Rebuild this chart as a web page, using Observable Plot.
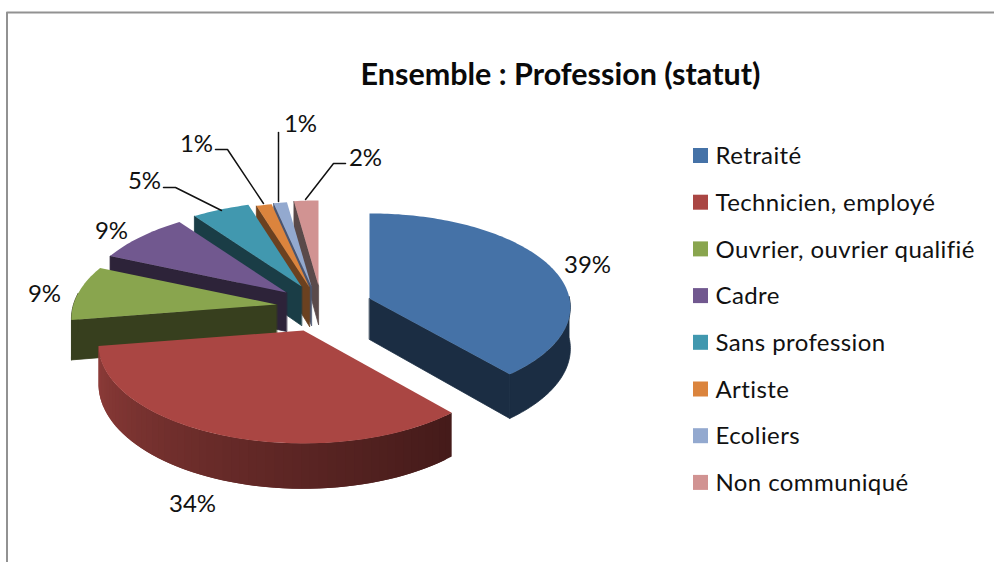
<!DOCTYPE html>
<html><head><meta charset="utf-8">
<style>html,body{margin:0;padding:0;background:#fff}svg{display:block}.leg{letter-spacing:.4px}</style>
<script src="https://cdn.jsdelivr.net/npm/d3@7"></script>
<script src="https://cdn.jsdelivr.net/npm/@observablehq/plot@0.6"></script>
</head><body><div id="c"></div>
<script>
// Data
const categories = ["Retraité","Technicien, employé","Ouvrier, ouvrier qualifié","Cadre","Sans profession","Artiste","Ecoliers","Non communiqué"];
const shares = [38.7,33.8,9,8.5,5.2,1.4,1.2,2.2];
const labels = ["39%","34%","9%","9%","5%","1%","1%","2%"];
const title = "Ensemble : Profession (statut)";
// Styles
const topColors  = ["#4572A7","#AA4643","#89A54E","#71588F","#4198AF","#DB843D","#93A9CF","#D19392"];
const sideColors = ["#1B2D43","#451B1A","#373F1E","#2D2339","#1A3D46","#6B4120","#4A5570","#5A4A4A"];
// Layout of the exploded, perspective pie
const apex = [[369,298],[303,330],[276,304],[286,292],[301,286],[309,287],[311,286],[318,285]];
const shape = i => i===0 ? {R:200,Ry:93,K:0.0926,D:41} : {R:203,Ry:97,K:0.141,D:39};
const project = (i, ax, ay, t) => { const {R,Ry,K}=shape(i), u=Math.sin(t), v=-Math.cos(t), s=1/(1-K*v); return {x:ax+R*u*s, y:ay+Ry*v*s, s}; };
const legendX = 693, legendY0 = 156, legendDY = 46.7;

const cum = d3.cumsum(shares);
const total = cum[cum.length-1];
const angle = p => p/total*2*Math.PI;
const slices = shares.map((d,i)=>({i, t0: angle(i?cum[i-1]:0), t1: angle(cum[i]), a: apex[i]}));
const arc = (s,a,b,n) => d3.range(n+1).map(k=>project(s.i,s.a[0],s.a[1],a+(b-a)*k/n));

let id=0;
const poly=(list,pts,color)=>{const z=id++;pts.forEach(p=>list.push({x:p[0],y:p[1],z,color}));};
const order=[7,6,5,4,3,2,0,1]; // painter's order
const layers=[];
for(const i of order){
  const s=slices[i], top=[], side=[], D=shape(i).D;
  const [ax,ay]=s.a;
  const cutT = i===0 ? s.t1 : s.t0;
  if(i!==1){
    const c=project(i,ax,ay,cutT);
    poly(side,[[ax,ay],[c.x,c.y],[c.x,c.y+D*c.s],[ax,ay+D]],sideColors[i]);
  }
  const a0=Math.max(s.t0,Math.PI/2-0.02), a1=Math.min(s.t1,Math.PI*1.5+0.12);
  if(a1>a0){
    if(i===1){
      const n=56, pts=arc(s,a0,a1,n);
      for(let k=0;k<n;k++){
        const p=pts[k],q=pts[Math.min(k+2,n)];
        const col=d3.interpolateRgb("#451B1A","#8E3C39")(Math.pow(k/(n-1),1.1));
        poly(side,[[p.x,p.y],[q.x,q.y],[q.x,q.y+D*q.s],[p.x,p.y+D*p.s]],col);
      }
    } else {
      const pts=arc(s,a0,a1,Math.max(2,Math.round((a1-a0)/0.02)));
      poly(side,[...pts.map(p=>[p.x,p.y]),...pts.slice().reverse().map(p=>[p.x,p.y+D*p.s])],sideColors[i]);
    }
  }
  const rim=arc(s,s.t0,s.t1,Math.max(4,Math.round((s.t1-s.t0)/0.02)));
  poly(top,[[ax,ay],...rim.map(p=>[p.x,p.y])],topColors[i]);
  layers.push({side,top,i});
}

const leaders=[
  {id:"5",pts:[[163,187],[175,187],[221,210]]},
  {id:"1a",pts:[[215,149],[227,149],[263,203]]},
  {id:"1b",pts:[[278,132],[278,201]]},
  {id:"2",pts:[[345,163],[333,163],[305,199]]}
].flatMap(l=>l.pts.map(p=>({id:l.id,x:p[0],y:p[1]})));
const labelPos=[[587,265],[192,504],[44,294],[111,231],[144,181],[196,144],[300,124],[365,158]];
const labelData=labels.map((t,i)=>({t,x:labelPos[i][0],y:labelPos[i][1]}));
const legendData=categories.map((c,i)=>({c,color:topColors[i],y:legendY0+i*legendDY}));
const font="Lato, 'Open Sans', sans-serif";

const plot=Plot.plot({
  width:994,height:562,margin:0,
  x:{domain:[0,994],range:[0,994],axis:null},
  y:{domain:[0,562],range:[0,562],axis:null},
  color:{type:"identity"},
  style:{fontFamily:font,background:"#fff"},
  marks:[
    Plot.line([{x:6.5,y:562},{x:6.5,y:12},{x:994,y:12}],{x:"x",y:"y",stroke:"#929292",strokeWidth:2}),
    ...layers.flatMap(l=>[
      Plot.line(l.side,{x:"x",y:"y",z:"z",fill:"color",stroke:l.i===1?"none":sideColors[l.i],strokeWidth:0.8,curve:"linear-closed"}),
      Plot.line(l.top,{x:"x",y:"y",z:"z",fill:"color",curve:"linear-closed"})
    ]),
    Plot.line(leaders,{x:"x",y:"y",z:"id",stroke:"#111",strokeWidth:1.5}),
    Plot.text(labelData,{x:"x",y:"y",text:"t",fontSize:24,fill:"#111"}),
    Plot.text([title],{x:()=>560,y:()=>75,text:d=>d,fontSize:30.5,fontWeight:700,fill:"#0a0a0a"}),
    Plot.rect(legendData,{x1:()=>legendX,x2:()=>legendX+15,y1:d=>d.y-8,y2:d=>d.y+7,fill:"color"}),
    Plot.text(legendData,{x:()=>715,y:"y",text:"c",textAnchor:"start",fontSize:24,fill:"#111",className:"leg"})
  ]
});
document.getElementById("c").append(plot);
</script></body></html>
